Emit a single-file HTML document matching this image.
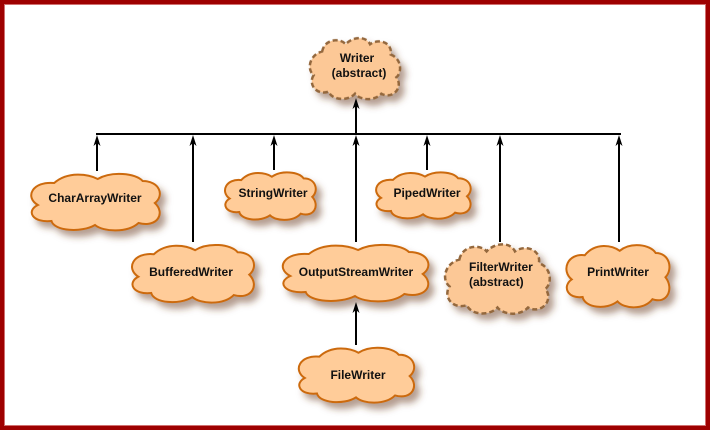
<!DOCTYPE html>
<html><head><meta charset="utf-8"><style>
html,body{margin:0;padding:0;background:#fff;}
#f{position:relative;width:710px;height:430px;box-sizing:border-box;border:4px solid #9e0000;box-shadow:inset 0 0 0 1px #d07070;background:#fff;overflow:hidden;}
svg{position:absolute;left:-4px;top:-4px;}
text{font-family:"Liberation Sans",Arial,sans-serif;font-weight:bold;font-size:12px;fill:#111;}
</style></head><body><div id="f">
<svg width="710" height="430" viewBox="0 0 710 430" xmlns="http://www.w3.org/2000/svg">
<defs>
<filter id="sh" x="-20%" y="-20%" width="150%" height="170%">
<feDropShadow dx="5" dy="6" stdDeviation="3.5" flood-color="#6b3a1a" flood-opacity="0.5"/>
</filter>
</defs>
<g filter="url(#sh)">
<path transform="translate(27,171) scale(1.36,1.0)" vector-effect="non-scaling-stroke" fill="#ffcc99" stroke="#cc6a10" stroke-width="2" d="M20,12 C30,0 45,3 52,8 C62,0 80,2 85,10 C98,10 101,25 94,32 C102,42 96,57 82,52 C74,62 56,61 50,54 C40,62 20,60 18,50 C4,52 -1,40 8,34 C-2,26 4,10 20,12 Z"/>
<path transform="translate(128,242) scale(1.29,1.02)" vector-effect="non-scaling-stroke" fill="#ffcc99" stroke="#cc6a10" stroke-width="2" d="M20,12 C30,0 45,3 52,8 C62,0 80,2 85,10 C98,10 101,25 94,32 C102,42 96,57 82,52 C74,62 56,61 50,54 C40,62 20,60 18,50 C4,52 -1,40 8,34 C-2,26 4,10 20,12 Z"/>
<path transform="translate(222,170) scale(0.96,0.84)" vector-effect="non-scaling-stroke" fill="#ffcc99" stroke="#cc6a10" stroke-width="2" d="M20,12 C30,0 45,3 52,8 C62,0 80,2 85,10 C98,10 101,25 94,32 C102,42 96,57 82,52 C74,62 56,61 50,54 C40,62 20,60 18,50 C4,52 -1,40 8,34 C-2,26 4,10 20,12 Z"/>
<path transform="translate(278,242) scale(1.54,1.0)" vector-effect="non-scaling-stroke" fill="#ffcc99" stroke="#cc6a10" stroke-width="2" d="M20,12 C30,0 45,3 52,8 C62,0 80,2 85,10 C98,10 101,25 94,32 C102,42 96,57 82,52 C74,62 56,61 50,54 C40,62 20,60 18,50 C4,52 -1,40 8,34 C-2,26 4,10 20,12 Z"/>
<path transform="translate(295,345) scale(1.22,0.97)" vector-effect="non-scaling-stroke" fill="#ffcc99" stroke="#cc6a10" stroke-width="2" d="M20,12 C30,0 45,3 52,8 C62,0 80,2 85,10 C98,10 101,25 94,32 C102,42 96,57 82,52 C74,62 56,61 50,54 C40,62 20,60 18,50 C4,52 -1,40 8,34 C-2,26 4,10 20,12 Z"/>
<path transform="translate(373,170) scale(1.0,0.82)" vector-effect="non-scaling-stroke" fill="#ffcc99" stroke="#cc6a10" stroke-width="2" d="M20,12 C30,0 45,3 52,8 C62,0 80,2 85,10 C98,10 101,25 94,32 C102,42 96,57 82,52 C74,62 56,61 50,54 C40,62 20,60 18,50 C4,52 -1,40 8,34 C-2,26 4,10 20,12 Z"/>
<path transform="translate(563,242) scale(1.09,1.1)" vector-effect="non-scaling-stroke" fill="#ffcc99" stroke="#cc6a10" stroke-width="2" d="M20,12 C30,0 45,3 52,8 C62,0 80,2 85,10 C98,10 101,25 94,32 C102,42 96,57 82,52 C74,62 56,61 50,54 C40,62 20,60 18,50 C4,52 -1,40 8,34 C-2,26 4,10 20,12 Z"/>
<path transform="translate(308,36) scale(0.94,1.03)" vector-effect="non-scaling-stroke" fill="#fcc896" stroke="#94683e" stroke-width="2.5" stroke-dasharray="5,3" d="M15,15 C18,2 35,2 40,8 C48,0 62,0 66,8 C75,2 90,6 88,18 C100,22 100,36 94,40 C102,50 90,62 78,56 C70,64 55,62 50,56 C42,64 25,62 22,54 C8,58 0,46 6,38 C-2,32 2,18 15,15 Z"/>
<path transform="translate(443,242) scale(1.09,1.17)" vector-effect="non-scaling-stroke" fill="#fcc896" stroke="#94683e" stroke-width="2.5" stroke-dasharray="5,3" d="M15,15 C18,2 35,2 40,8 C48,0 62,0 66,8 C75,2 90,6 88,18 C100,22 100,36 94,40 C102,50 90,62 78,56 C70,64 55,62 50,56 C42,64 25,62 22,54 C8,58 0,46 6,38 C-2,32 2,18 15,15 Z"/>
</g>
<g stroke="#000" stroke-width="2" fill="none">
<line x1="96" y1="134" x2="621" y2="134"/>
<line x1="356" y1="134" x2="356" y2="106"/>
<line x1="97" y1="171" x2="97" y2="143"/>
<line x1="193" y1="242" x2="193" y2="143"/>
<line x1="274" y1="170" x2="274" y2="143"/>
<line x1="356" y1="242" x2="356" y2="143"/>
<line x1="427" y1="170" x2="427" y2="143"/>
<line x1="500" y1="242" x2="500" y2="143"/>
<line x1="619" y1="242" x2="619" y2="143"/>
<line x1="356" y1="345" x2="356" y2="310"/>
</g>
<g fill="#000">
<polygon points="356,98 352.5,109 356,106 359.5,109"/>
<polygon points="97,135 93.5,146 97,143 100.5,146"/>
<polygon points="193,135 189.5,146 193,143 196.5,146"/>
<polygon points="274,135 270.5,146 274,143 277.5,146"/>
<polygon points="356,135 352.5,146 356,143 359.5,146"/>
<polygon points="427,135 423.5,146 427,143 430.5,146"/>
<polygon points="500,135 496.5,146 500,143 503.5,146"/>
<polygon points="619,135 615.5,146 619,143 622.5,146"/>
<polygon points="356,302 352.5,313 356,310 359.5,313"/>
</g>
<g text-anchor="middle">
<text x="357" y="62">Writer</text>
<text x="359" y="77">(abstract)</text>
<text x="95" y="202">CharArrayWriter</text>
<text x="191" y="276">BufferedWriter</text>
<text x="273" y="197">StringWriter</text>
<text x="356" y="276">OutputStreamWriter</text>
<text x="358" y="379">FileWriter</text>
<text x="427" y="197">PipedWriter</text>
<text x="618" y="276">PrintWriter</text>
</g>
<text x="469" y="271">FilterWriter</text>
<text x="469" y="286">(abstract)</text>
</svg>
</div></body></html>
